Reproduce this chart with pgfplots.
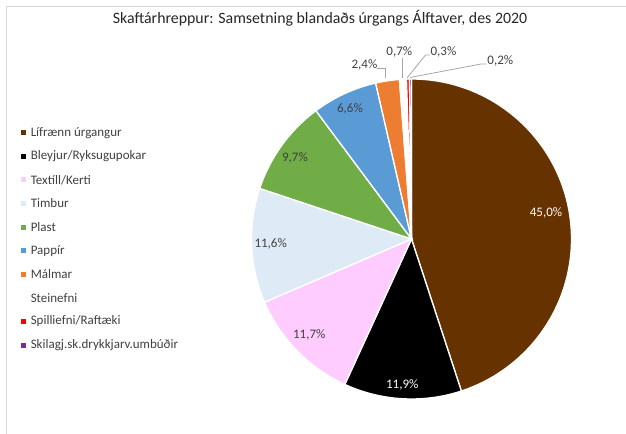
\documentclass[border=0pt]{standalone}
\usepackage{pgfplots}
\usepackage{pgfplotstable}
\pgfplotsset{compat=1.18}
\usepackage{fontspec}
\setmainfont{Carlito}

\definecolor{cBrown}{HTML}{663300}
\definecolor{cPink}{HTML}{FFCCFF}
\definecolor{cLight}{HTML}{DEEBF7}
\definecolor{cGreen}{HTML}{70AD47}
\definecolor{cBlue}{HTML}{5B9BD5}
\definecolor{cOrange}{HTML}{ED7D31}
\definecolor{cRed}{HTML}{FF0000}
\definecolor{cPurple}{HTML}{7030A0}
\definecolor{tgray}{HTML}{404040}
\definecolor{lgray}{HTML}{A6A6A6}
\definecolor{bgray}{HTML}{D9D9D9}

\newcommand\lblfont{\fontsize{9.75pt}{11pt}\selectfont}
\newcommand\titlefont{\fontsize{11.9pt}{13pt}\selectfont}

% name; value (percent); colour; label colour; label text; label x; label y (pixels from top)
\pgfplotstableread[col sep=semicolon]{
name;value;col;tcol;lbl;lx;ly
Lífrænn úrgangur;45.0;cBrown;white;45,0;546;212.7
Bleyjur/Ryksugupokar;11.9;black;white;11,9;402.3;385
Textíll/Kerti;11.7;cPink;tgray;11,7;309.3;335
Timbur;11.6;cLight;tgray;11,6;270.7;244.3
Plast;9.7;cGreen;tgray;9,7;295;158.3
Pappír;6.6;cBlue;tgray;6,6;350;109.3
Málmar;2.4;cOrange;tgray;2,4;364.5;65
Steinefni;0.7;white;tgray;0,7;399.3;51.7
Spilliefni/Raftæki;0.3;cRed;tgray;0,3;443.5;52
Skilagj.sk.drykkjarv.umbúðir;0.2;cPurple;tgray;0,2;500.3;61
}\piedata

\begin{document}
\begin{tikzpicture}
\pgfplotstablegetrowsof{\piedata}
\pgfmathtruncatemacro\lastrow{\pgfplotsretval-1}
\begin{axis}[
  at={(0,0)}, anchor=south west,
  scale only axis, width=469.5pt, height=325.5pt,
  xmin=0, xmax=626, ymin=0, ymax=434, y dir=reverse,
  hide axis, clip=false]
\def\cum{0}
\pgfplotsforeachungrouped \i in {0,...,\lastrow}{%
  \pgfplotstablegetelem{\i}{value}\of\piedata \let\val\pgfplotsretval
  \pgfplotstablegetelem{\i}{col}\of\piedata \let\col\pgfplotsretval
  \pgfplotstablegetelem{\i}{tcol}\of\piedata \let\tcol\pgfplotsretval
  \pgfplotstablegetelem{\i}{lbl}\of\piedata \let\lbl\pgfplotsretval
  \pgfplotstablegetelem{\i}{lx}\of\piedata \let\lx\pgfplotsretval
  \pgfplotstablegetelem{\i}{ly}\of\piedata \let\ly\pgfplotsretval
  \pgfplotstablegetelem{\i}{name}\of\piedata \let\nm\pgfplotsretval
  \pgfmathsetmacro\aS{90-\cum*3.596404}%
  \pgfmathsetmacro\cumN{\cum+\val}%
  \pgfmathsetmacro\aE{90-\cumN*3.596404}%
  \pgfmathsetmacro\legy{132.7+23.6*\i}%
  \edef\tmp{%
    \noexpand\fill[\col, draw=white, line width=1pt] (axis cs:411.5,239) -- ++(\aS:120pt) arc[start angle=\aS, end angle=\aE, radius=120pt] -- cycle;
    \noexpand\node[text=\tcol, font=\noexpand\lblfont, inner sep=0pt] at (axis cs:\lx,\ly) {\lbl\noexpand\%};
    \noexpand\node[fill=\col, inner sep=0pt, minimum size=3.75pt] at (axis cs:23.3,\legy) {};
    \noexpand\node[anchor=west, text=tgray, font=\noexpand\lblfont, inner sep=0pt] at (axis cs:30.5,\legy) {\nm};
  }%
  \tmp
  \let\cum\cumN
}
% leader lines
\draw[lgray, line width=0.6pt] (axis cs:377,68.5) -- (axis cs:385.5,68.5) -- (axis cs:385.5,78);
\draw[lgray, line width=0.6pt] (axis cs:402.3,58.5) -- (axis cs:402.3,78);
\draw[lgray, line width=0.6pt] (axis cs:429.5,55) -- (axis cs:425.5,55) -- (axis cs:407,78);
\draw[lgray, line width=0.6pt] (axis cs:486,64) -- (axis cs:481,64) -- (axis cs:410,77.5);
% title
\node[font=\titlefont, text=black!85] at (axis cs:320,18) {Skaftárhreppur: Samsetning blandaðs úrgangs Álftaver, des 2020};
% chart frame
\draw[bgray, line width=0.75pt] (axis cs:6.5,434) -- (axis cs:6.5,7) -- (axis cs:626,7);
\end{axis}
\pgfresetboundingbox
\path (0,0) rectangle (469.5pt,325.5pt);
\end{tikzpicture}
\end{document}
